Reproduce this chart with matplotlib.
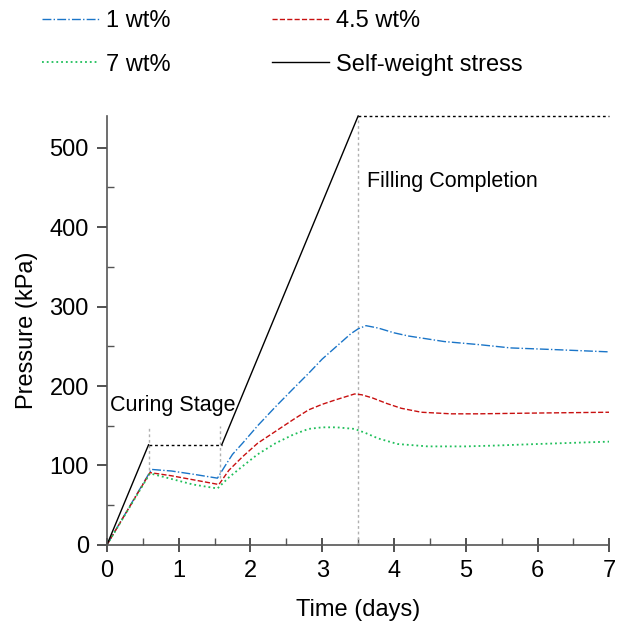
import matplotlib
matplotlib.use('Agg')
import matplotlib.pyplot as plt
from matplotlib.ticker import MultipleLocator

plt.rcParams['font.family'] = ['Liberation Sans', 'DejaVu Sans']

# self-weight stress: ramps (solid) and plateaus (dotted)
sw_ramp1_t = [0, 0.58]
sw_ramp1_p = [0, 126]
sw_hold1_t = [0.58, 1.6]
sw_hold1_p = [126, 126]
sw_ramp2_t = [1.6, 3.5]
sw_ramp2_p = [126, 540]
sw_hold2_t = [3.5, 7.0]
sw_hold2_p = [540, 540]

t_1wt = [0, 0.62, 0.9, 1.2, 1.54, 1.65, 1.75, 1.89, 2.1, 2.35, 2.6, 2.81, 3.0, 3.2, 3.4,
         3.5, 3.61, 3.78, 4.0, 4.2, 4.7, 5.2, 5.62, 6.2, 7.0]
p_1wt = [0, 95, 93, 89, 84, 100, 114, 128, 150, 174, 197, 216, 234, 250, 266,
         272, 276, 273, 267, 263, 256, 252, 248, 246, 243]

t_45wt = [0, 0.6, 0.9, 1.2, 1.56, 1.7, 1.89, 2.1, 2.35, 2.6, 2.81, 3.0, 3.2, 3.45,
          3.55, 3.7, 3.9, 4.1, 4.38, 4.8, 5.16, 6.0, 7.0]
p_45wt = [0, 91, 87, 82, 76, 94, 111, 128, 143, 158, 170, 177, 183, 190,
          189, 185, 178, 172, 167, 165, 165, 166, 167]

t_7wt = [0, 0.6, 0.9, 1.2, 1.54, 1.7, 1.89, 2.1, 2.35, 2.6, 2.81, 3.0, 3.2, 3.45,
         3.6, 3.78, 4.05, 4.47, 5.0, 5.39, 6.0, 7.0]
p_7wt = [0, 90, 83, 76, 71, 85, 99, 114, 128, 139, 146, 148, 148, 146,
         141, 134, 127, 124, 124, 125, 127, 130]

# marker lines: (x, y_bottom, y_top)
stage_lines = [(0.58, 94, 150), (1.58, 84, 150), (3.5, 0, 540)]

fig = plt.figure(figsize=(6.18, 6.22), dpi=100)
ax = fig.add_axes([0.173, 0.124, 0.813, 0.6895])

for x, y0, y1 in stage_lines:
    ax.plot([x, x], [y0, y1], color='#b0b0b0', linestyle=(0, (2, 2)), linewidth=1)

l1, = ax.plot(t_1wt, p_1wt, color='#1a75c8', linestyle='-.', linewidth=1, label='1 wt%')
l2, = ax.plot(t_45wt, p_45wt, color='#c81010', linestyle='--', linewidth=1, label='4.5 wt%')
l3, = ax.plot(t_7wt, p_7wt, color='#1fbf5a', linestyle=':', linewidth=1.3, label='7 wt%')
l4, = ax.plot(sw_ramp1_t, sw_ramp1_p, color='black', linewidth=1, label='Self-weight stress')
ax.plot(sw_ramp2_t, sw_ramp2_p, color='black', linewidth=1, clip_on=False)
ax.plot(sw_hold1_t, sw_hold1_p, color='black', linestyle=(0, (2, 2)), linewidth=1)
ax.plot(sw_hold2_t, sw_hold2_p, color='black', linestyle=(0, (2, 2)), linewidth=1, clip_on=False)

ax.text(0.04, 175, 'Curing Stage', fontsize=15.5, va='center', ha='left')
ax.text(3.62, 458, 'Filling Completion', fontsize=15.5, va='center', ha='left')

ax.set_xlim(0, 7)
ax.set_ylim(0, 540)
ax.xaxis.set_major_locator(MultipleLocator(1))
ax.xaxis.set_minor_locator(MultipleLocator(0.5))
ax.yaxis.set_major_locator(MultipleLocator(100))
ax.yaxis.set_minor_locator(MultipleLocator(50))

for s in ['top', 'right']:
    ax.spines[s].set_visible(False)
for s in ['left', 'bottom']:
    ax.spines[s].set_color('#555555')
    ax.spines[s].set_linewidth(1.2)

ax.tick_params(axis='x', which='major', direction='inout', length=10, width=1.2,
               color='#333333', labelsize=17, pad=6)
ax.tick_params(axis='y', which='major', direction='out', length=7, width=1.2,
               color='#333333', labelsize=17, pad=6)
ax.tick_params(which='minor', direction='in', length=5, width=1, color='#555555')

ax.set_xlabel('Time (days)', fontsize=17, labelpad=12)
ax.set_ylabel('Pressure (kPa)', fontsize=17, labelpad=8)

# column-first fill: order so rows read 1 wt% / 4.5 wt%, 7 wt% / self-weight
fig.legend([l1, l3, l2, l4], ['1 wt%', '7 wt%', '4.5 wt%', 'Self-weight stress'],
           loc='upper left', bbox_to_anchor=(0.061, 0.991), ncol=2, frameon=False,
           fontsize=17, handlelength=2.4, handletextpad=0.3, columnspacing=4.3,
           labelspacing=0.9, borderaxespad=0, borderpad=0.2)

fig.savefig('out.png', dpi=100)
